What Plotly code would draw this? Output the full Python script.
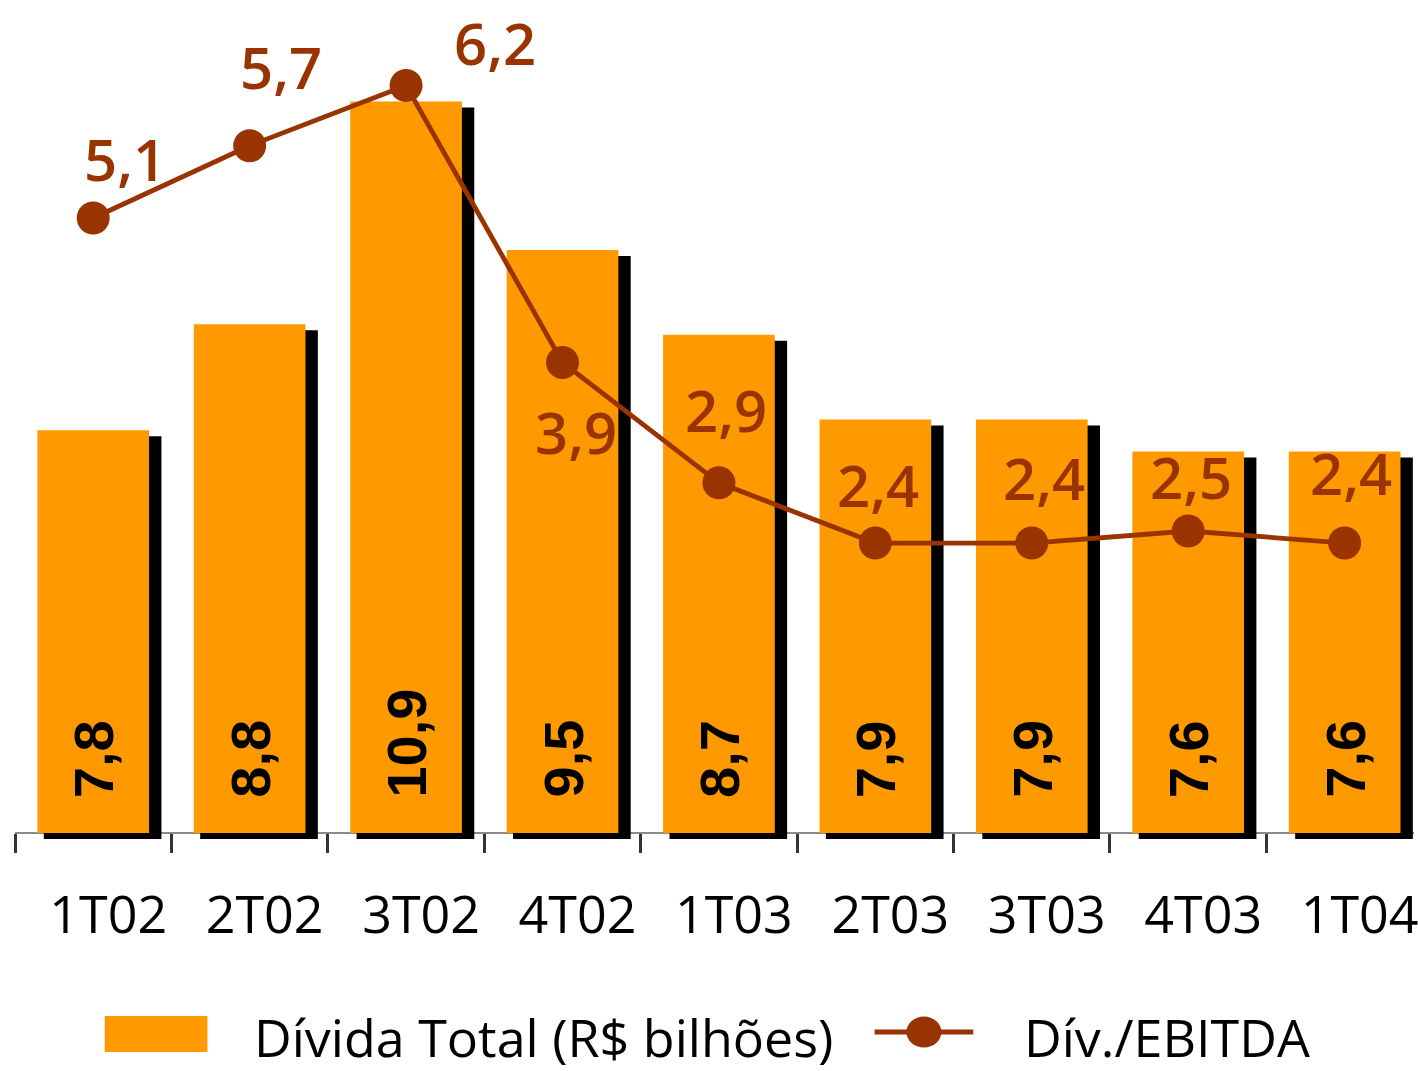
import plotly.graph_objects as go

# ---------------- data ----------------
categories = ["1T02", "2T02", "3T02", "4T02", "1T03", "2T03", "3T03", "4T03", "1T04"]
divida_total = [7.8, 8.8, 10.9, 9.5, 8.7, 7.9, 7.9, 7.6, 7.6]          # R$ bilhões
div_ebitda = [5.1, 5.7, 6.2, 3.9, 2.9, 2.4, 2.4, 2.5, 2.4]
bar_labels = ["7,8", "8,8", "10,9", "9,5", "8,7", "7,9", "7,9", "7,6", "7,6"]
line_labels = ["5,1", "5,7", "6,2", "3,9", "2,9", "2,4", "2,4", "2,5", "2,4"]

# label offsets in pixels (style / placement only)
line_label_dx = [32, 31, 89, 13, 7, 3, 12, 3, 6]
line_label_dy = [59, 79, 43, -69, 73, 59, 66, 55, 71]

# ---------------- styling / geometry ----------------
ORANGE = "#FF9900"
BROWN = "#993300"
W, HGT = 1418, 1071
M_L, M_R, M_T, M_B = 15, 0, 0, 211
PLOT_W = W - M_L - M_R
PLOT_H = HGT - M_T - M_B
AXIS_PX = 833                 # row of the category axis line
BASE_VAL = 4.0                # primary axis value at the axis line
PX_PER_Y1 = 106.0
PX_PER_Y2 = 120.4
ZERO2_PX = 832
CAT_PX = 156.875
SHADOW_DY_PX = 6

y1_range = [BASE_VAL - (PLOT_H - AXIS_PX) / PX_PER_Y1, BASE_VAL + AXIS_PX / PX_PER_Y1]
y2_range = [-(PLOT_H - ZERO2_PX) / PX_PER_Y2, ZERO2_PX / PX_PER_Y2]
x_range = [-0.5, -0.5 + PLOT_W / CAT_PX]
axis_pos = (PLOT_H - AXIS_PX) / PLOT_H

shadow_base = BASE_VAL - SHADOW_DY_PX / PX_PER_Y1
bar_w = 112 / CAT_PX
shadow_w = 118 / CAT_PX
shadow_shift = 9.4 / CAT_PX

fig = go.Figure()

# shadow bars
fig.add_trace(go.Bar(
    x=categories,
    y=[v - BASE_VAL for v in divida_total],
    base=shadow_base,
    width=shadow_w,
    offset=shadow_shift - shadow_w / 2,
    marker=dict(color="black", line=dict(width=0)),
    hoverinfo="skip",
    showlegend=False,
))

# main bars
fig.add_trace(go.Bar(
    x=categories,
    y=[v - BASE_VAL for v in divida_total],
    base=BASE_VAL,
    width=bar_w,
    customdata=divida_total,
    hovertemplate="%{x}: %{customdata}<extra>Dívida Total</extra>",
    marker=dict(color=ORANGE, line=dict(width=0)),
    name="Dívida Total (R$ bilhões)",
    showlegend=False,
))

# line on secondary axis
fig.add_trace(go.Scatter(
    x=categories,
    y=div_ebitda,
    yaxis="y2",
    mode="lines+markers",
    line=dict(color=BROWN, width=4.8),
    marker=dict(color=BROWN, size=33),
    name="Dív./EBITDA",
    showlegend=False,
))

annotations = []
# bar value labels (rotated)
for c, t in zip(categories, bar_labels):
    annotations.append(dict(
        x=c, y=BASE_VAL, xref="x", yref="y", text=t, showarrow=False,
        textangle=-90, xanchor="center", yanchor="bottom", yshift=33,
        font=dict(family="Liberation Sans, Arial", size=56, color="black", weight="bold"),
    ))
# line value labels
for c, v, t, dx, dy in zip(categories, div_ebitda, line_labels, line_label_dx, line_label_dy):
    annotations.append(dict(
        x=c, y=v, xref="x", yref="y2", text=t, showarrow=False,
        xanchor="center", yanchor="middle", xshift=dx, yshift=dy,
        font=dict(family="Open Sans", size=58, color=BROWN, weight=600),
    ))


def px_x(px):
    """pixel column -> paper x"""
    return (px - M_L) / PLOT_W


def px_y(py):
    """pixel row -> paper y"""
    return (M_T + PLOT_H - py) / PLOT_H


# custom legend
legend_font = dict(family="Open Sans", size=52, color="black")
annotations.append(dict(x=px_x(253), y=px_y(1036), xref="paper", yref="paper",
                        text="Dívida Total (R$ bilhões)", showarrow=False,
                        xanchor="left", yanchor="middle", font=legend_font))
annotations.append(dict(x=px_x(1025), y=px_y(1036), xref="paper", yref="paper",
                        text="Dív./EBITDA", showarrow=False,
                        xanchor="left", yanchor="middle", font=legend_font))

shapes = [
    dict(type="rect", xref="paper", yref="paper",
         x0=px_x(105), x1=px_x(208), y0=px_y(1052), y1=px_y(1016),
         fillcolor=ORANGE, line=dict(width=0)),
    dict(type="line", xref="paper", yref="paper",
         x0=px_x(877), x1=px_x(976), y0=px_y(1032), y1=px_y(1032),
         line=dict(color=BROWN, width=4.8)),
    dict(type="circle", xref="paper", yref="paper",
         x0=px_x(909), x1=px_x(944), y0=px_y(1047.5), y1=px_y(1016.5),
         fillcolor=BROWN, line=dict(width=0)),
]

fig.update_layout(
    width=W, height=HGT,
    margin=dict(l=M_L, r=M_R, t=M_T, b=M_B, pad=0),
    paper_bgcolor="white", plot_bgcolor="white",
    barmode="overlay",
    showlegend=False,
    annotations=annotations,
    shapes=shapes,
    xaxis=dict(
        type="category", categoryorder="array", categoryarray=categories,
        range=x_range, tickson="boundaries",
        ticks="outside", ticklen=19, tickwidth=3, tickcolor="#333333",
        showline=True, linecolor="#8a8a8a", linewidth=2,
        showgrid=False, zeroline=False,
        anchor="free", position=axis_pos, layer="below traces",
        tickfont=dict(family="Open Sans", size=52, color="black"),
        ticklabelshift=15, ticklabelstandoff=37,
        fixedrange=True,
    ),
    xaxis2=dict(
        overlaying="x", type="linear", range=x_range,
        tickmode="array", tickvals=[i - 0.5 for i in range(len(categories) + 1)],
        ticks="inside", ticklen=16, tickwidth=3, tickcolor="#333333",
        showticklabels=False, showline=False, showgrid=False, zeroline=False,
        anchor="free", position=axis_pos, side="bottom", layer="below traces",
    ),
    yaxis=dict(range=y1_range, visible=False, showgrid=False, zeroline=False),
    yaxis2=dict(range=y2_range, overlaying="y", visible=False, showgrid=False, zeroline=False),
)

# remove the page's default body margin so the figure fills the window exactly
page_fix = "document.body.style.margin='0';document.body.style.overflow='hidden';"
fig.write_html("out.html", post_script=page_fix, config={"displayModeBar": False})
